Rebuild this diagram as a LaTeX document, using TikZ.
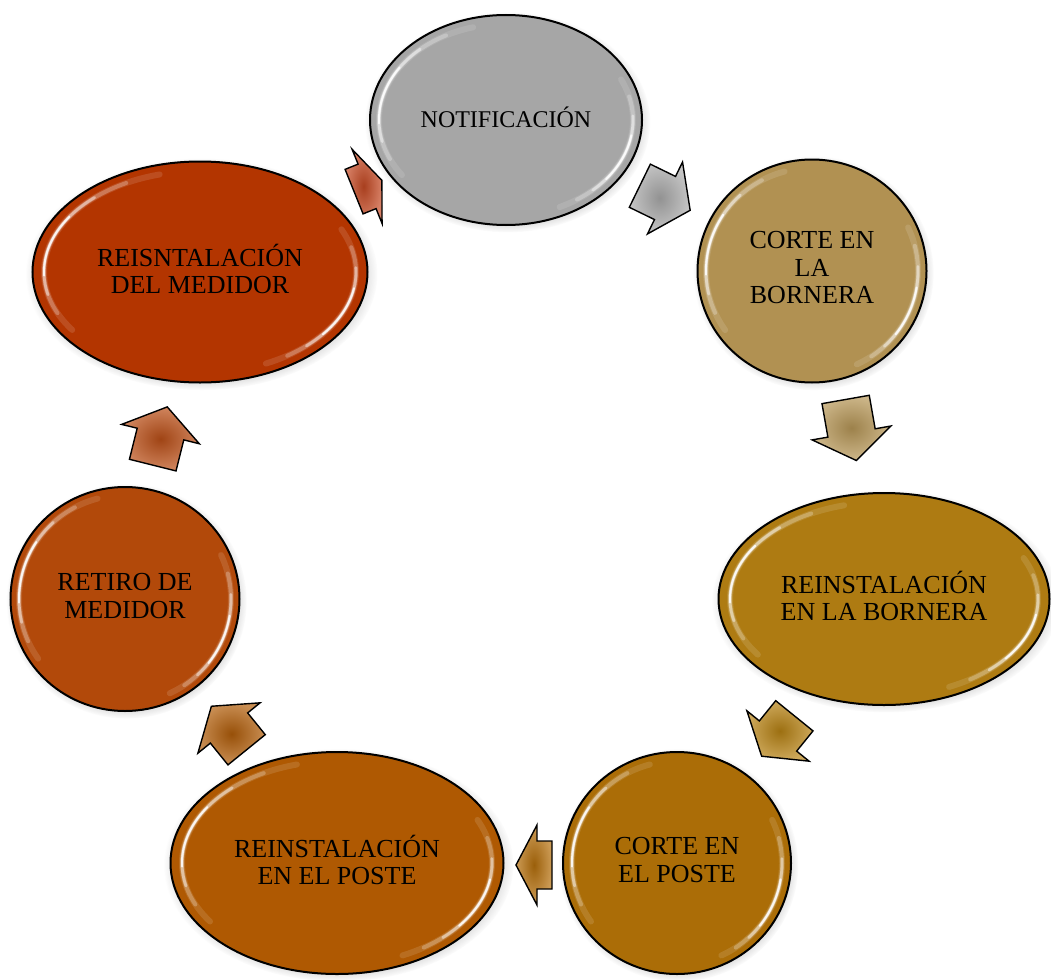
\documentclass[tikz,border=0pt]{standalone}
\usepackage{fontspec}
\setmainfont{Liberation Serif}
\usetikzlibrary{shadows,shapes.geometric}

% stage colours
\definecolor{cNot}{HTML}{A6A6A6}
\definecolor{cCorB}{HTML}{B19152}
\definecolor{cReiB}{HTML}{AE7B12}
\definecolor{cCorP}{HTML}{AB6D07}
\definecolor{cReiP}{HTML}{AF5902}
\definecolor{cRet}{HTML}{B2490A}
\definecolor{cMed}{HTML}{B33500}
% arrow colours
\definecolor{aNot}{HTML}{ACACAC}
\definecolor{aCorB}{HTML}{B89858}
\definecolor{aReiB}{HTML}{B88314}
\definecolor{aCorP}{HTML}{B6700C}
\definecolor{aReiP}{HTML}{B25E0A}
\definecolor{aRet}{HTML}{BC5018}
\definecolor{aMed}{HTML}{C64A24}

\tikzset{
  stage/.style={ellipse, draw=black, line width=2pt, fill=#1, inner sep=0pt,
    circular drop shadow={shadow xshift=1.5pt, shadow yshift=-2pt,
      shadow scale=1.05, opacity=0.4, fill=black!60}},
  stagetext/.style={align=center, inner sep=0pt, text=black, yshift=3pt,
    font=\fontsize{26}{27.5}\selectfont},
  gleam/.style={draw=white, line cap=round, line join=round},
  blockarrow/.style={draw=black, line width=1.4pt, line join=miter,
    inner color=#1!85!black, outer color=#1!70!white},
}

% one white stroke along the inset ellipse: from/to angle (anticlockwise,
% as seen on the page), x radius, y radius, width, opacity
\newcommand\gleamstroke[6]{%
  \path[gleam, line width=#5, draw opacity=#6]
    plot[domain=#1:#2, samples=40, smooth] ({#3*cos(\x)}, {-#4*sin(\x)});}
% a soft gleam: nested strokes, each shorter, thinner and brighter
\newcommand\gleamarc[4]{%
  \pgfmathsetmacro\gsA{#1+0.12*(#2-(#1))}\pgfmathsetmacro\geA{#2-0.10*(#2-(#1))}%
  \pgfmathsetmacro\gsB{#1+0.25*(#2-(#1))}\pgfmathsetmacro\geB{#2-0.20*(#2-(#1))}%
  \pgfmathsetmacro\gsC{#1+0.38*(#2-(#1))}\pgfmathsetmacro\geC{#2-0.30*(#2-(#1))}%
  \gleamstroke{#1}{#2}{#3}{#4}{6pt}{0.12}%
  \gleamstroke{\gsA}{\geA}{#3}{#4}{4pt}{0.25}%
  \gleamstroke{\gsB}{\geB}{#3}{#4}{2.8pt}{0.45}%
  \gleamstroke{\gsC}{\geC}{#3}{#4}{2pt}{0.85}}
% both gleams of a stage: node, inset x radius, inset y radius
\newcommand\shine[3]{%
  \begin{scope}[shift={(#1.center)}]
    \gleamarc{105}{215}{#2}{#3}
    \gleamarc{25}{-65}{#2}{#3}
  \end{scope}}

% block arrow: centre x, centre y, direction, length, head length, colour
\newcommand\cyclearrow[6]{%
  \begin{scope}[shift={(#1,#2)}, rotate=#3]
    \path[blockarrow=#6]
      ({-#4/2},-24) -- ({#4/2-#5},-24) -- ({#4/2-#5},-40) -- ({#4/2},0)
      -- ({#4/2-#5},40) -- ({#4/2-#5},24) -- ({-#4/2},24) -- cycle;
  \end{scope}}

\begin{document}
\begin{tikzpicture}[x=1pt, y=-1pt]
  \useasboundingbox (0,0) rectangle (1051,979);

  % stages of the cycle
  \node[stage=cNot,  minimum width=272pt, minimum height=210pt] (notif)  at (506,120) {};
  \node[stage=cCorB, minimum width=229pt, minimum height=223pt] (cortb)  at (812,271) {};
  \node[stage=cReiB, minimum width=331pt, minimum height=212pt] (reinb)  at (884,599) {};
  \node[stage=cCorP, minimum width=228pt, minimum height=222pt] (cortp)  at (677,863) {};
  \node[stage=cReiP, minimum width=333pt, minimum height=222pt] (reinp)  at (337,863) {};
  \node[stage=cRet,  minimum width=229pt, minimum height=224pt] (retiro) at (125,599) {};
  \node[stage=cMed,  minimum width=335pt, minimum height=221pt] (reinm)  at (200,272) {};

  \shine{notif}{127}{96}
  \shine{cortb}{106}{103}
  \shine{reinb}{154}{97}
  \shine{cortp}{105}{102}
  \shine{reinp}{155}{102}
  \shine{retiro}{106}{104}
  \shine{reinm}{156}{101}

  % stage labels
  \node[stagetext, font=\fontsize{24}{27.5}\selectfont] (tnotif) at (notif) {NOTIFICACIÓN};
  \node[stagetext] (tcortb)  at (cortb)  {CORTE EN\\LA\\BORNERA};
  \node[stagetext] (treinb)  at (reinb)  {REINSTALACIÓN\\EN LA BORNERA};
  \node[stagetext] (tcortp)  at (cortp)  {CORTE EN\\EL POSTE};
  \node[stagetext] (treinp)  at (reinp)  {REINSTALACIÓN\\EN EL POSTE};
  \node[stagetext] (tretiro) at (retiro) {RETIRO DE\\MEDIDOR};
  \node[stagetext] (treinm)  at (reinm)  {REISNTALACIÓN\\DEL MEDIDOR};

  % arrows between consecutive stages
  \cyclearrow{665}{198}{-26}{56}{28}{aNot}
  \cyclearrow{851}{430}{-80}{62}{28}{aCorB}
  \cyclearrow{778}{736}{-129}{52}{26}{aReiB}
  \cyclearrow{534}{865}{180}{36}{21}{aCorP}
  \cyclearrow{229}{728}{129}{56}{28}{aReiP}
  \cyclearrow{160}{436}{76}{60}{28}{aRet}
  \cyclearrow{368}{186}{22}{30}{16}{aMed}
\end{tikzpicture}
\end{document}
